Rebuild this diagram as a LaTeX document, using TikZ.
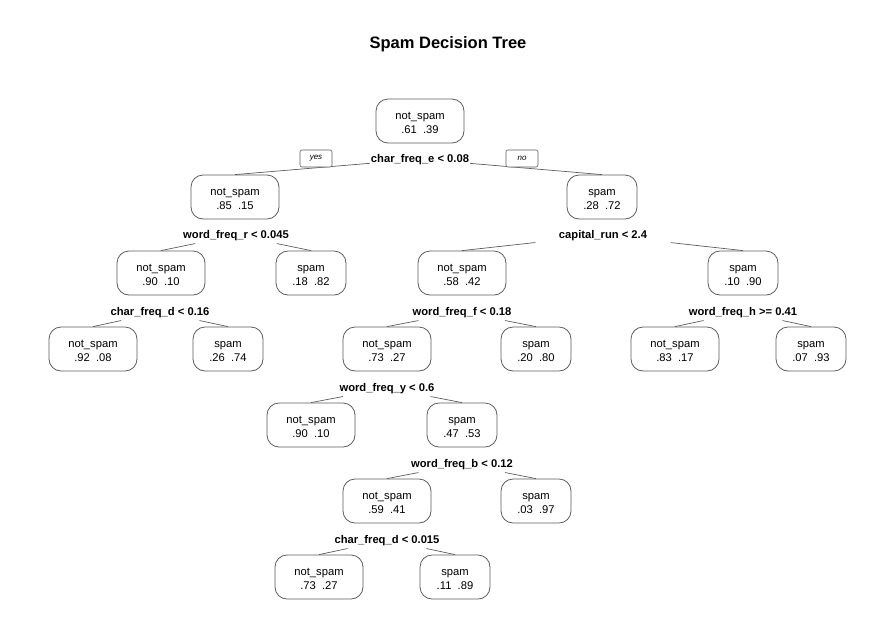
\documentclass[tikz,border=0pt]{standalone}
\usepackage{fontspec}
\setmainfont{Liberation Sans}
\usepackage{tikz}
\usetikzlibrary{calc}

\definecolor{linegray}{HTML}{5C5C5C}

\begin{document}
\begin{tikzpicture}[x=1pt, y=-1pt,
  leaf/.style={draw=linegray, line width=0.8pt, rounded corners=12pt, fill=white,
    minimum height=44pt, inner sep=0pt, align=center, text height=24.5pt, text depth=0pt,
    font=\fontsize{11.2}{14}\selectfont},
  nsbox/.style={leaf, minimum width=88pt},
  spbox/.style={leaf, minimum width=70pt},
  split/.style={anchor=base, inner xsep=1pt, inner ysep=3pt,
    font=\fontsize{11.2}{13.5}\selectfont\bfseries},
  branch/.style={draw=linegray, line width=0.7pt},
  yesno/.style={draw=linegray, line width=0.6pt, rounded corners=2pt, fill=white,
    minimum width=32pt, minimum height=17pt, inner sep=0pt, font=\fontsize{8}{9}\selectfont\itshape}]
  \useasboundingbox (0,0) rectangle (896,638);
  \node[font=\fontsize{16.5}{19}\selectfont\bfseries, anchor=base] (title) at (448,48) {Spam Decision Tree};

  % boxes, one row per depth
  \node[nsbox] (n1) at (420,121) {not\_spam\\.61\ \ .39};
  \node[nsbox] (n2) at (235,197) {not\_spam\\.85\ \ .15};
  \node[spbox] (n3) at (602,197) {spam\\.28\ \ .72};
  \node[nsbox] (n4) at (161,273) {not\_spam\\.90\ \ .10};
  \node[spbox] (n5) at (311,273) {spam\\.18\ \ .82};
  \node[nsbox] (n6) at (462,273) {not\_spam\\.58\ \ .42};
  \node[spbox] (n7) at (743,273) {spam\\.10\ \ .90};
  \node[nsbox] (n8) at (93,349) {not\_spam\\.92\ \ .08};
  \node[spbox] (n9) at (228,349) {spam\\.26\ \ .74};
  \node[nsbox] (n12) at (387,349) {not\_spam\\.73\ \ .27};
  \node[spbox] (n13) at (536,349) {spam\\.20\ \ .80};
  \node[nsbox] (n14) at (675,349) {not\_spam\\.83\ \ .17};
  \node[spbox] (n15) at (811,349) {spam\\.07\ \ .93};
  \node[nsbox] (n24) at (311,425) {not\_spam\\.90\ \ .10};
  \node[spbox] (n25) at (462,425) {spam\\.47\ \ .53};
  \node[nsbox] (n50) at (387,501) {not\_spam\\.59\ \ .41};
  \node[spbox] (n51) at (536,501) {spam\\.03\ \ .97};
  \node[nsbox] (n100) at (319,577) {not\_spam\\.73\ \ .27};
  \node[spbox] (n101) at (455,577) {spam\\.11\ \ .89};

  % split rules under the inner boxes
  \node[split] (s1) at (420,162) {char\_freq\_e < 0.08};
  \node[split] (s2) at (236,238) {word\_freq\_r < 0.045};
  \node[split, minimum width=135pt] (s3) at (603,238) {capital\_run < 2.4};
  \node[split] (s4) at (160,315) {char\_freq\_d < 0.16};
  \node[split] (s6) at (462,315) {word\_freq\_f < 0.18};
  \node[split] (s7) at (743,315) {word\_freq\_h >= 0.41};
  \node[split] (s12) at (387,391) {word\_freq\_y < 0.6};
  \node[split] (s25) at (462,467) {word\_freq\_b < 0.12};
  \node[split] (s50) at (387,543) {char\_freq\_d < 0.015};

  \draw[branch] (s1) -- (n2.north);
  \draw[branch] (s1) -- (n3.north);
  \draw[branch] (s2) -- (n4.north);
  \draw[branch] (s2) -- (n5.north);
  \draw[branch] (s3) -- (n6.north);
  \draw[branch] (s3) -- (n7.north);
  \draw[branch] (s4) -- (n8.north);
  \draw[branch] (s4) -- (n9.north);
  \draw[branch] (s6) -- (n12.north);
  \draw[branch] (s6) -- (n13.north);
  \draw[branch] (s7) -- (n14.north);
  \draw[branch] (s7) -- (n15.north);
  \draw[branch] (s12) -- (n24.north);
  \draw[branch] (s12) -- (n25.north);
  \draw[branch] (s25) -- (n50.north);
  \draw[branch] (s25) -- (n51.north);
  \draw[branch] (s50) -- (n100.north);
  \draw[branch] (s50) -- (n101.north);

  \node[yesno] (yes) at (316,158.5) {yes};
  \node[yesno] (no) at (522,158.5) {no};
\end{tikzpicture}
\end{document}
